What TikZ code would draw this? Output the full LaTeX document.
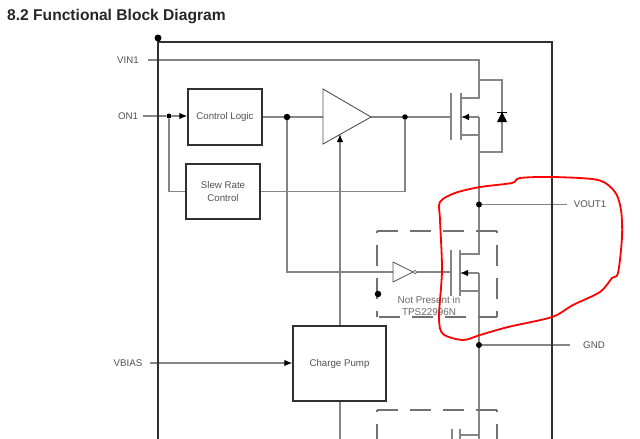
\documentclass[tikz,border=0pt]{standalone}
\usepackage{fontspec}
\setmainfont{Liberation Sans}
\usepackage{xcolor}
\usetikzlibrary{positioning,arrows.meta,backgrounds}
\definecolor{wireGray}{HTML}{858585}
\definecolor{boxDark}{HTML}{303030}
\definecolor{textGray}{HTML}{505050}

\begin{document}
\begin{tikzpicture}[
    x=1pt,y=-1pt,
    wire/.style={%
      draw=wireGray,
      line width=1.2pt,
    },
    block/.style={%
      draw=boxDark,
      rectangle,
      line width=1.3pt,
      inner sep=0pt,
      align=center,
      text=textGray,
      font=\fontsize{9.7}{12.5}\selectfont,
    },
    pin/.style={%
      text=textGray,
      inner sep=0pt,
      font=\fontsize{9.7}{12}\selectfont,
    },
    dot/.style={%
      circle,
      fill=black,
      inner sep=0pt,
      minimum size=#1,
    },
    dot/.default=5pt,
    tip/.style={-{Latex[length=8pt,width=6.5pt,black]}},
    optional/.style={%
      draw=wireGray!85!black,
      line width=1.1pt,
      dash pattern=on 21pt off 12pt,
    },
  ]
    \useasboundingbox (0,0) rectangle (640,439);

    \node [anchor=base west,inner sep=0pt,font=\bfseries\fontsize{15.6}{18}\selectfont,text=black!85] (title) at (7,20) {8.2 Functional Block Diagram};

    % outer package
    \draw [draw=boxDark,line width=1.3pt] (158,439) -- (158,42) -- (552,42) -- (552,439);
    \node [dot=7pt] (corner) at (158,38) {};

    % blocks
    \node [block,minimum width=74pt,minimum height=56pt] (logic) at (225,117) {Control Logic};
    \node [block,minimum width=74pt,minimum height=55pt] (slew) at (223,191.5) {Slew Rate\\Control};
    \node [block,minimum width=93pt,minimum height=75pt] (pump) at (339.5,363.5) {Charge Pump};

    % pins
    \node [pin] (vin) at (128,60) {VIN1};
    \node [pin] (on) at (128,116.5) {ON1};
    \node [pin] (vbias) at (128,363) {VBIAS};
    \node [pin] (vout) at (590,204.5) {VOUT1};
    \node [pin] (gnd) at (594,345) {GND};

    % rail and junctions
    \node [dot=6pt] (voutDot) at (479,204.5) {};
    \node [dot=6pt] (gndDot) at (479,345) {};
    \node [dot=5pt] (onDot) at (169,116) {};
    \node [dot=6.5pt] (logicDot) at (287,117) {};
    \node [dot=5.5pt] (ampDot) at (405,117) {};
    \node [dot=6.5pt] (floatDot) at (378,294) {};

    \coordinate (vinEnd) at (148,60);
    \coordinate (onEnd) at (143,116);
    \coordinate (vbiasEnd) at (150,363);
    \coordinate (voutEnd) at (567,204.5);
    \coordinate (gndEnd) at (570,345);
    \coordinate (railTop) at (479,60);
    \coordinate (railBottom) at (479,439);

    % amplifier
    \coordinate (ampA) at (323,89);
    \coordinate (ampB) at (323,144);
    \coordinate (ampOut) at (371,117);
    \coordinate (ampIn) at (323,117);
    \coordinate (ampSup) at (340,134);
    \draw [draw=textGray,line width=.9pt] (ampA) -- (ampOut) -- (ampB) -- cycle;

    % inverter
    \coordinate (invA) at (393,262);
    \coordinate (invB) at (393,282);
    \coordinate (invOut) at (413,272);
    \coordinate (invIn) at (393,272);
    \draw [draw=textGray,line width=.8pt] (invA) -- (invOut) -- (invB) -- cycle;
    \node [circle,draw=textGray,line width=.7pt,inner sep=0pt,minimum size=3.5pt] (bubble) at (415,272) {};

    \begin{scope}[on background layer]
    % signal wires
    \draw [wire] (vinEnd) -- (railTop) -- (479,98) -- (461,98);
    \draw [wire] (onEnd) -- (onDot);
    \draw [wire,tip] (onDot) -- (logic.west |- onDot);
    \draw [wire] (onDot) |- (slew.west);
    \draw [wire] (logic.east |- logicDot) -- (ampIn);
    \draw [wire] (logicDot) |- (invIn);
    \draw [wire] (ampOut) -- (451,117);
    \draw [wire] (ampDot) |- (slew.east);
    \draw [wire,tip] (pump.north -| ampSup) -- (ampSup);
    \draw [wire] (pump.south -| ampSup) -- (340,439);
    \draw [wire,tip] (vbiasEnd) -- (pump.west |- vbiasEnd);
    \draw [wire] (bubble) -- (451,272);
    \draw [wire] (voutDot) -- (voutEnd);
    \draw [wire] (gndDot) -- (gndEnd);

    % top FET
    \draw [wire] (451,93) -- (451,140);
    \draw [wire] (461,93) -- (461,140);
    \draw [wire,tip] (479,117) -- (461,117);
    \draw [wire] (461,135) -- (479,135);
    \draw [wire] (479,117) -- (479,254) -- (460,254);
    \draw [wire] (479,80) -- (502,80) -- (502,152) -- (479,152);

    % optional FET
    \draw [wire] (451,250) -- (451,296);
    \draw [wire] (460,250) -- (460,296);
    \draw [wire,tip] (479,273) -- (460,273);
    \draw [wire] (460,291) -- (479,291);
    \draw [wire] (479,273) -- (railBottom);
    \draw [optional] (377,231) -- (497,231);
    \draw [optional,dash phase=19pt] (377,231) -- (377,317);
    \draw [optional,dash phase=19pt] (497,231) -- (497,317);
    \draw [optional,dash phase=2pt] (497,317) -- (377,317);

    % lower optional block, cut by the page
    \draw [optional] (377,410) -- (497,410);
    \draw [optional,dash phase=19pt] (377,410) -- (377,439);
    \draw [optional,dash phase=19pt] (497,410) -- (497,439);
    \draw [wire] (452,429) -- (452,439);
    \draw [wire] (460,429) -- (460,439);
    \draw [wire] (460,435) -- (479,435);
    \end{scope}

    % diode
    \fill (502,112) -- (507,122) -- (497,122) -- cycle;
    \draw [line width=.8pt] (497,112) -- (507,112);

    \node [pin,align=center,text=textGray!85,font=\fontsize{9.9}{12.5}\selectfont] (note) at (429,306) {Not Present in\\TPS22996N};

    % hand-drawn mark
    \draw [red,line width=1.8pt] plot [smooth cycle,tension=.5] coordinates {
      (440,202) (455,193) (480,187) (512,183) (520,178) (553,177) (598,180)
      (615,192) (621,210) (622,237) (618,273) (612,278) (600,292) (573,305)
      (552,317) (508,327) (480,335) (463,340) (443,334) (439,317) (442,270)
      (440,220)};
\end{tikzpicture}
\end{document}
